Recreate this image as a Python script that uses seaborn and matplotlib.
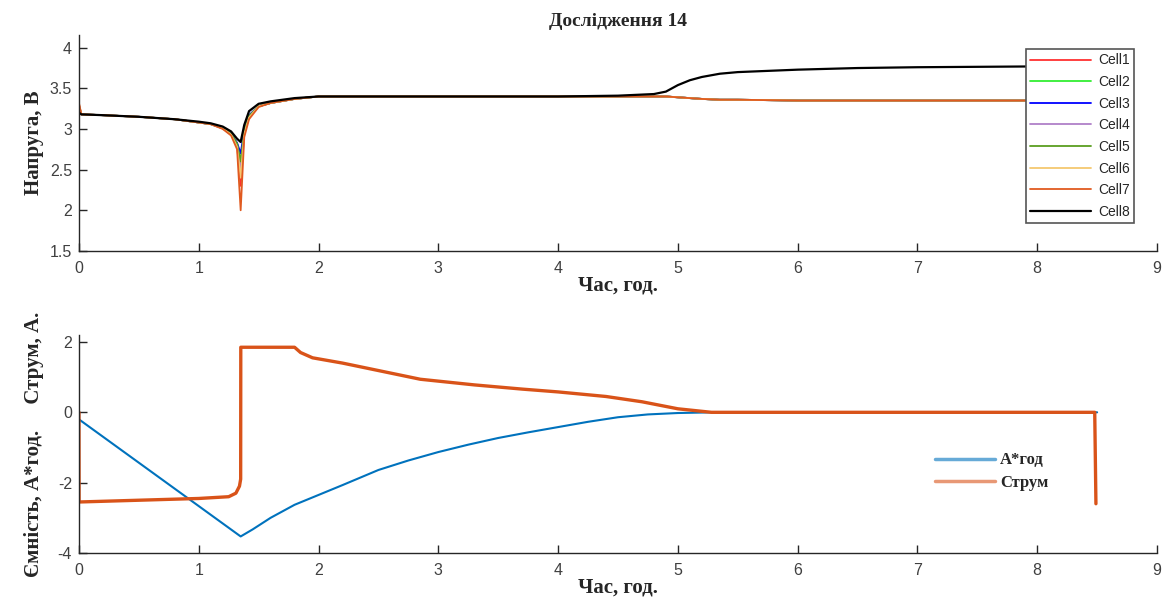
import numpy as np
import pandas as pd
import seaborn as sns
import matplotlib
matplotlib.use('Agg')
import matplotlib.pyplot as plt

# voltages per cell
t_v = [0, 0.02, 0.2, 0.5, 0.8, 1.0, 1.1, 1.2, 1.27, 1.32, 1.35, 1.38, 1.42, 1.5, 1.6, 1.8, 2.0,
       3.0, 4.0, 4.5, 4.8, 4.9, 5.0, 5.1, 5.2, 5.35, 5.5, 6.0, 6.5, 7.0, 8.0, 8.5]
cell1 = [3.30, 3.18, 3.17, 3.15, 3.12, 3.08, 3.06, 3.01, 2.94, 2.80, 2.30, 2.95, 3.15, 3.28, 3.32, 3.37, 3.40,
         3.40, 3.40, 3.40, 3.40, 3.40, 3.39, 3.38, 3.37, 3.36, 3.36, 3.35, 3.35, 3.35, 3.35, 3.35]
cell2 = [3.28, 3.18, 3.17, 3.15, 3.12, 3.08, 3.06, 3.01, 2.94, 2.82, 2.60, 2.97, 3.16, 3.28, 3.32, 3.37, 3.40,
         3.40, 3.40, 3.40, 3.40, 3.40, 3.39, 3.38, 3.37, 3.36, 3.36, 3.35, 3.35, 3.35, 3.35, 3.35]
cell3 = [3.27, 3.18, 3.17, 3.15, 3.12, 3.08, 3.06, 3.01, 2.94, 2.83, 2.70, 2.98, 3.17, 3.28, 3.32, 3.37, 3.40,
         3.40, 3.40, 3.40, 3.40, 3.40, 3.39, 3.38, 3.37, 3.36, 3.36, 3.35, 3.35, 3.35, 3.35, 3.35]
cell4 = [3.29, 3.18, 3.17, 3.15, 3.12, 3.08, 3.06, 3.01, 2.94, 2.81, 2.50, 2.96, 3.15, 3.28, 3.32, 3.37, 3.40,
         3.40, 3.40, 3.40, 3.40, 3.40, 3.39, 3.38, 3.37, 3.36, 3.36, 3.35, 3.35, 3.35, 3.35, 3.35]
cell5 = [3.28, 3.18, 3.17, 3.15, 3.12, 3.08, 3.06, 3.01, 2.94, 2.82, 2.60, 2.97, 3.16, 3.28, 3.32, 3.37, 3.40,
         3.40, 3.40, 3.40, 3.40, 3.40, 3.39, 3.38, 3.37, 3.36, 3.36, 3.35, 3.35, 3.35, 3.35, 3.35]
cell6 = [3.30, 3.18, 3.17, 3.15, 3.12, 3.08, 3.06, 3.01, 2.93, 2.78, 2.40, 2.94, 3.14, 3.28, 3.32, 3.37, 3.40,
         3.40, 3.40, 3.40, 3.40, 3.40, 3.39, 3.38, 3.37, 3.36, 3.36, 3.35, 3.35, 3.35, 3.35, 3.35]
cell7 = [3.32, 3.18, 3.17, 3.15, 3.12, 3.08, 3.06, 3.00, 2.92, 2.75, 2.00, 2.90, 3.12, 3.27, 3.32, 3.37, 3.40,
         3.40, 3.40, 3.40, 3.40, 3.40, 3.39, 3.38, 3.37, 3.36, 3.36, 3.35, 3.35, 3.35, 3.35, 3.35]
cell8 = [3.20, 3.18, 3.17, 3.15, 3.12, 3.09, 3.07, 3.03, 2.97, 2.88, 2.84, 3.05, 3.22, 3.31, 3.34, 3.38, 3.40,
         3.40, 3.40, 3.41, 3.43, 3.46, 3.54, 3.60, 3.64, 3.68, 3.70, 3.73, 3.75, 3.76, 3.77, 3.78]
cells = [cell1, cell2, cell3, cell4, cell5, cell6, cell7, cell8]
cell_names = ['Cell1', 'Cell2', 'Cell3', 'Cell4', 'Cell5', 'Cell6', 'Cell7', 'Cell8']
cell_colors = ['#ff3030', '#33ee33', '#0000ff', '#b080c8', '#5a9e20', '#f5c870', '#e05a20', '#000000']

# current and capacity
t_i = [0, 0.001, 0.5, 1.0, 1.25, 1.31, 1.34, 1.35, 1.351, 1.8, 1.85, 1.95, 2.2, 2.85, 3.3, 3.7, 4.0,
       4.4, 4.7, 5.0, 5.28, 8.48, 8.49]
current = [0, -2.55, -2.5, -2.45, -2.4, -2.3, -2.1, -1.9, 1.85, 1.85, 1.7, 1.55, 1.4, 0.94, 0.78, 0.66, 0.58,
           0.45, 0.3, 0.1, 0, 0, -2.6]
t_c = [0, 1.35, 1.45, 1.6, 1.8, 2.0, 2.2, 2.5, 2.75, 3.0, 3.25, 3.5, 3.75, 4.0, 4.25, 4.5, 4.75, 5.0, 5.3, 8.5]
capacity = [-0.2, -3.53, -3.33, -3.0, -2.63, -2.35, -2.07, -1.64, -1.37, -1.13, -0.92, -0.73, -0.57,
            -0.42, -0.27, -0.14, -0.06, -0.02, 0, 0]

sns.set_style('white')
plt.rcParams['font.family'] = ['Liberation Sans', 'DejaVu Sans']
plt.rcParams['axes.unicode_minus'] = False

serif = {'family': 'Liberation Serif', 'weight': 'bold'}

fig = plt.figure(figsize=(11.68, 6.09), dpi=100)
ax1 = fig.add_axes([0.0676, 0.588, 0.923, 0.355])
ax2 = fig.add_axes([0.0676, 0.092, 0.923, 0.358])

for name, vals, col in zip(cell_names, cells, cell_colors):
    lw = 1.6 if name == 'Cell8' else 1.3
    sns.lineplot(x=t_v, y=vals, ax=ax1, color=col, label=name, linewidth=lw,
                 estimator=None, sort=False)

sns.lineplot(x=t_c, y=capacity, ax=ax2, color='#0072BD', label='А*год', linewidth=1.5,
             estimator=None, sort=False)
sns.lineplot(x=t_i, y=current, ax=ax2, color='#D95319', label='Струм', linewidth=2.4,
             estimator=None, sort=False)

for ax in (ax1, ax2):
    ax.set_xlim(0, 9)
    ax.set_xticks(range(10))
    for s in ('top', 'right'):
        ax.spines[s].set_visible(False)
    for s in ('left', 'bottom'):
        ax.spines[s].set_color('#262626')
        ax.spines[s].set_linewidth(1.0)
    ax.tick_params(direction='in', length=6, width=1, colors='#262626',
                   labelcolor='#404040', labelsize=11.5, bottom=True, left=True)
    ax.tick_params(axis='x', pad=7)
    ax.tick_params(axis='y', pad=5)
    ax.set_xlabel('Час, год.', fontdict=serif, fontsize=15, labelpad=0)

ax1.set_ylim(1.5, 4.16)
ax1.set_yticks([1.5, 2, 2.5, 3, 3.5, 4])
ax1.set_yticklabels(['1.5', '2', '2.5', '3', '3.5', '4'])
ax1.set_ylabel('Напруга, В', fontdict=serif, fontsize=15, labelpad=4)
ax1.set_title('Дослідження 14', fontdict=serif, fontsize=14, pad=6)

ax2.set_ylim(-4, 2.2)
ax2.set_yticks([-4, -2, 0, 2])
ax2.set_ylabel('Ємність, А*год.     Струм, А.', fontdict=serif, fontsize=15, labelpad=10)

leg1 = ax1.legend(loc='upper right', bbox_to_anchor=(0.985, 0.965), fontsize=10,
                  frameon=True, fancybox=False, framealpha=1, edgecolor='#555555',
                  handlelength=4.4, labelspacing=0.55, borderpad=0.3, handletextpad=0.5)
leg1.get_frame().set_linewidth(1.2)

leg2 = ax2.legend(loc='upper left', bbox_to_anchor=(0.78, 0.53), frameon=False,
                  prop={'family': 'Liberation Serif', 'weight': 'bold', 'size': 12},
                  handlelength=3.6, labelspacing=0.4, handletextpad=0.3)
for h in leg2.get_lines():
    h.set_linewidth(2.5)
    h.set_alpha(0.6)

fig.savefig('out.png', dpi=100)
